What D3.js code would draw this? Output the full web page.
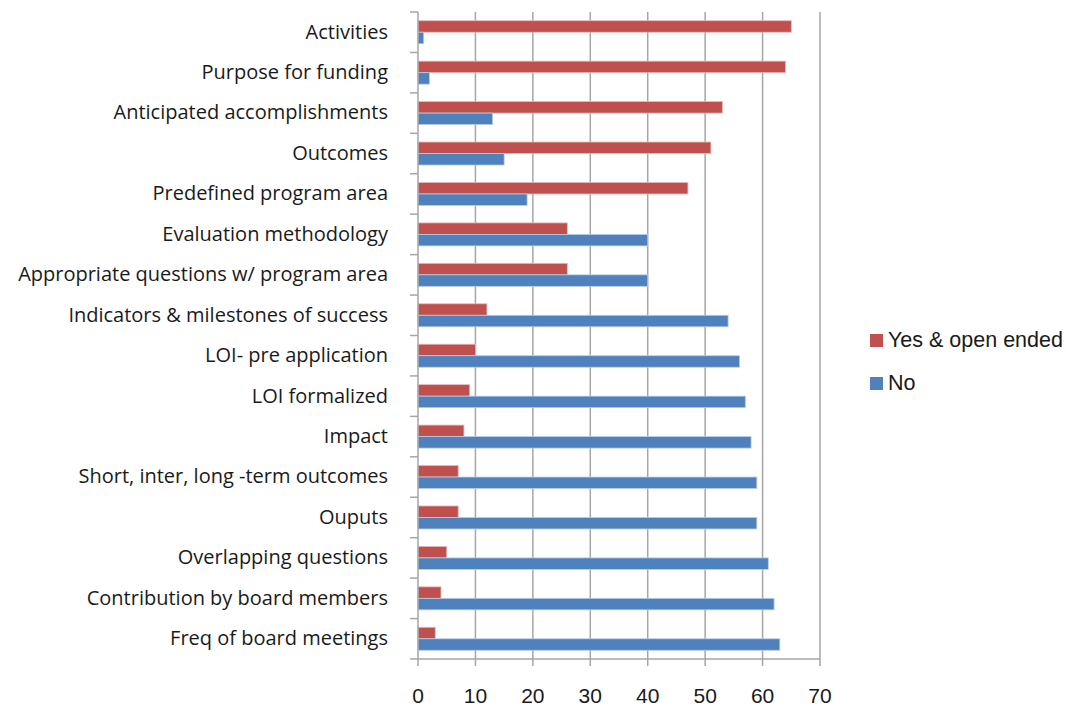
<!DOCTYPE html>
<html>
<head>
<meta charset="utf-8">
<script src="https://cdn.jsdelivr.net/npm/d3@7"></script>
<style>
  body { margin: 0; background: #fff; }
  svg text { fill: #1a1a1a; }
</style>
</head>
<body>
<div id="chart"></div>
<script>
// categories, top to bottom
var categories = [
    "Activities", "Purpose for funding", "Anticipated accomplishments", "Outcomes",
    "Predefined program area", "Evaluation methodology", "Appropriate questions w/ program area",
    "Indicators & milestones of success", "LOI- pre application", "LOI formalized", "Impact",
    "Short, inter, long -term outcomes", "Ouputs", "Overlapping questions",
    "Contribution by board members", "Freq of board meetings"
];
var yesValues = [65, 64, 53, 51, 47, 26, 26, 12, 10, 9, 8, 7, 7, 5, 4, 3];
var noValues  = [1, 2, 13, 15, 19, 40, 40, 54, 56, 57, 58, 59, 59, 61, 62, 63];
var xTicks = [0, 10, 20, 30, 40, 50, 60, 70];
var seriesNames = ["Yes & open ended", "No"];
var seriesColors = ["#C0504D", "#4F81BD"];

var width = 1066, height = 707;
var plotLeft = 418, plotRight = 820, plotTop = 12, plotBottom = 659;

var svg = d3.select("#chart").append("svg")
    .attr("width", width)
    .attr("height", height);

var x = d3.scaleLinear().domain([0, 70]).range([plotLeft, plotRight]);
var y = d3.scaleBand().domain(categories).range([plotTop, plotBottom]);

// vertical gridlines
svg.append("g").selectAll("line").data(xTicks.slice(1))
    .enter().append("line")
    .attr("x1", function (d) { return x(d); })
    .attr("x2", function (d) { return x(d); })
    .attr("y1", plotTop).attr("y2", plotBottom + 7)
    .attr("stroke", "#a6a6a6").attr("stroke-width", 1.5);

// bars
var barH = 11.5;
var groups = svg.append("g").selectAll("g").data(categories)
    .enter().append("g")
    .attr("transform", function (d) { return "translate(0," + (y(d) + y.bandwidth() / 2) + ")"; });

groups.append("rect")
    .attr("x", x(0))
    .attr("y", -barH)
    .attr("width", function (d, i) { return x(yesValues[i]) - x(0); })
    .attr("height", barH)
    .attr("fill", seriesColors[0])
    .attr("stroke", "#e6b9b8").attr("stroke-width", 0.8);

groups.append("rect")
    .attr("x", x(0))
    .attr("y", 0)
    .attr("width", function (d, i) { return x(noValues[i]) - x(0); })
    .attr("height", barH)
    .attr("fill", seriesColors[1])
    .attr("stroke", "#b9cde5").attr("stroke-width", 0.8);

// y axis line with ticks between categories
var yAxisG = svg.append("g");
yAxisG.append("line")
    .attr("x1", plotLeft).attr("x2", plotLeft)
    .attr("y1", plotTop).attr("y2", plotBottom + 7)
    .attr("stroke", "#a6a6a6").attr("stroke-width", 1.5);
yAxisG.selectAll("line.tk").data(d3.range(categories.length + 1))
    .enter().append("line").attr("class", "tk")
    .attr("x1", plotLeft - 8).attr("x2", plotLeft)
    .attr("y1", function (i) { return plotTop + i * y.step(); })
    .attr("y2", function (i) { return plotTop + i * y.step(); })
    .attr("stroke", "#a6a6a6").attr("stroke-width", 1.5);

// category labels
svg.append("g").selectAll("text").data(categories)
    .enter().append("text")
    .attr("x", 388)
    .attr("y", function (d) { return y(d) + y.bandwidth() / 2 + 1; })
    .attr("text-anchor", "end")
    .attr("dominant-baseline", "middle")
    .style("font-family", "'Open Sans', 'Liberation Sans', sans-serif")
    .style("font-size", "20px")
    .text(function (d) { return d; });

// x axis
svg.append("line")
    .attr("x1", plotLeft).attr("x2", plotRight)
    .attr("y1", plotBottom).attr("y2", plotBottom)
    .attr("stroke", "#a6a6a6").attr("stroke-width", 1.5);

svg.append("g").selectAll("text").data(xTicks)
    .enter().append("text")
    .attr("x", function (d) { return x(d); })
    .attr("y", 703)
    .attr("text-anchor", "middle")
    .style("font-family", "'Liberation Sans', Arial, sans-serif")
    .style("font-size", "21px")
    .text(function (d) { return d; });

// legend
var legend = svg.append("g").selectAll("g").data(seriesNames)
    .enter().append("g")
    .attr("transform", function (d, i) { return "translate(870," + (334 + i * 43) + ")"; });
legend.append("rect")
    .attr("width", 13).attr("height", 13)
    .attr("fill", function (d, i) { return seriesColors[i]; });
legend.append("text")
    .attr("x", 18).attr("y", 7)
    .attr("dominant-baseline", "middle")
    .style("font-family", "'Liberation Sans', Arial, sans-serif")
    .style("font-size", "21.5px")
    .text(function (d) { return d; });
</script>
</body>
</html>
